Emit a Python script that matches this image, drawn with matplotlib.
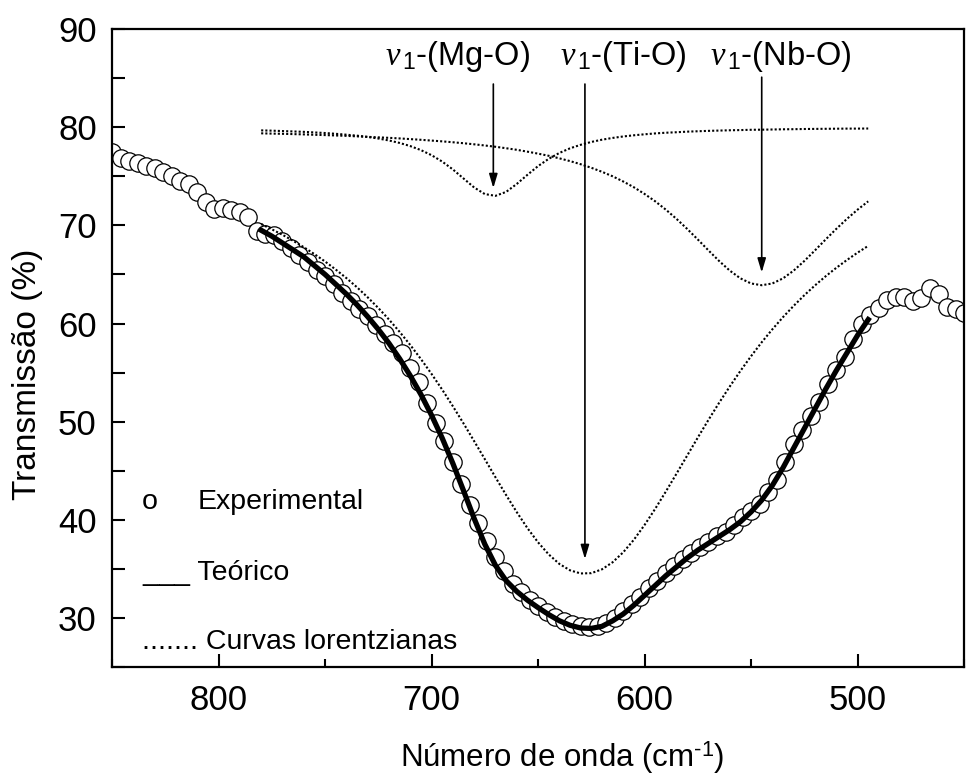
import matplotlib.pyplot as plt
from matplotlib.ticker import MultipleLocator

# experimental spectrum, one point every 4 cm-1 from 850 down to 450
wn_exp = list(range(850, 449, -4))
t_exp = [
    77.5, 76.9, 76.6, 76.4, 76.1, 75.8, 75.4, 75.0, 74.5, 74.2,   # 850-814
    73.4, 72.4, 71.7, 71.8, 71.6, 71.4, 70.9, 69.4, 69.1, 69.0,   # 810-774
    68.4, 67.7, 67.0, 66.3, 65.5, 64.8, 64.0, 63.1, 62.3, 61.5,   # 770-734
    60.8, 59.8, 58.9, 58.0, 57.0, 55.5, 54.0, 51.9, 49.9, 48.0,   # 730-694
    45.9, 43.6, 41.5, 39.7, 37.8, 36.2, 34.8, 33.5, 32.6, 31.8,   # 690-654
    31.2, 30.6, 30.1, 29.7, 29.4, 29.2, 29.1, 29.2, 29.5, 30.0,   # 650-614
    30.7, 31.4, 32.1, 33.0, 33.8, 34.6, 35.3, 36.0, 36.6, 37.2,   # 610-574
    37.7, 38.3, 38.8, 39.5, 40.3, 40.9, 41.6, 42.8, 44.1, 45.9,   # 570-534
    47.7, 49.1, 50.6, 52.0, 53.8, 55.3, 56.6, 58.4, 59.9, 60.9,   # 530-494
    61.6, 62.4, 62.7, 62.7, 62.3, 62.6, 63.6, 63.0, 61.7, 61.5,   # 490-454
    61.1,                                                         # 450
]

# fitted curves, every 5 cm-1 from 780 down to 495
wn_fit = list(range(780, 494, -5))
t_teorico = [
    69.50, 68.90, 68.20, 67.50, 66.80, 65.90, 65.00, 64.00, 63.00, 61.90,
    60.70, 59.40, 57.98, 56.41, 54.68, 52.77, 50.65, 48.32, 45.74, 42.97,
    40.13, 37.51, 35.35, 33.79, 32.70, 31.81, 31.05, 30.34, 29.71, 29.25,
    28.97, 28.93, 29.14, 29.70, 30.40, 31.30, 32.30, 33.30, 34.30, 35.20,
    36.10, 36.90, 37.60, 38.30, 39.00, 39.80, 40.80, 42.00, 43.50, 45.30,
    47.30, 49.30, 51.30, 53.30, 55.20, 57.00, 58.80, 60.40,
]
t_mg = [
    79.68, 79.65, 79.61, 79.57, 79.53, 79.47, 79.41, 79.33, 79.24, 79.14,
    79.01, 78.85, 78.65, 78.40, 78.08, 77.67, 77.15, 76.50, 75.70, 74.78,
    73.86, 73.19, 73.01, 73.41, 74.22, 75.15, 76.04, 76.78, 77.38, 77.85,
    78.21, 78.50, 78.73, 78.91, 79.06, 79.18, 79.28, 79.37, 79.44, 79.49,
    79.55, 79.59, 79.63, 79.66, 79.69, 79.71, 79.74, 79.75, 79.77, 79.79,
    79.80, 79.82, 79.83, 79.84, 79.85, 79.86, 79.86, 79.87,
]
t_ti = [
    70.13, 69.60, 69.04, 68.43, 67.78, 67.07, 66.32, 65.50, 64.63, 63.69,
    62.67, 61.58, 60.41, 59.15, 57.81, 56.38, 54.86, 53.26, 51.57, 49.82,
    48.01, 46.18, 44.33, 42.52, 40.78, 39.15, 37.70, 36.47, 35.50, 34.85,
    34.53, 34.56, 34.95, 35.67, 36.69, 37.97, 39.47, 41.12, 42.88, 44.70,
    46.54, 48.38, 50.18, 51.92, 53.58, 55.17, 56.67, 58.09, 59.41, 60.65,
    61.80, 62.88, 63.88, 64.81, 65.67, 66.47, 67.22, 67.91,
]
t_nb = [
    79.38, 79.35, 79.33, 79.30, 79.27, 79.23, 79.20, 79.16, 79.12, 79.07,
    79.02, 78.97, 78.92, 78.86, 78.79, 78.72, 78.64, 78.56, 78.47, 78.37,
    78.26, 78.14, 78.01, 77.86, 77.70, 77.51, 77.31, 77.09, 76.83, 76.55,
    76.23, 75.87, 75.46, 75.00, 74.47, 73.88, 73.20, 72.45, 71.60, 70.66,
    69.64, 68.56, 67.45, 66.37, 65.39, 64.60, 64.08, 63.90, 64.08, 64.60,
    65.39, 66.37, 67.45, 68.56, 69.64, 70.66, 71.60, 72.45,
]

# band labels: name, band position (cm-1), transmission at arrow tip
bands = ['Mg-O', 'Ti-O', 'Nb-O']
band_wn = [671, 628, 545]
band_tip = [73.8, 36.0, 65.2]

plt.rcParams['font.family'] = ['Liberation Sans', 'DejaVu Sans']
plt.rcParams['mathtext.fontset'] = 'custom'
plt.rcParams['mathtext.rm'] = 'Liberation Sans'
plt.rcParams['mathtext.it'] = 'Liberation Serif:italic'
plt.rcParams['mathtext.bf'] = 'Liberation Sans:bold'

fig = plt.figure(figsize=(9.66, 7.76), dpi=100)
ax = fig.add_axes([0.116, 0.1405, 0.882, 0.822])

ax.plot(wn_exp, t_exp, 'o', ms=12.5, mfc='white', mec='black', mew=0.9, zorder=2)
ax.plot(wn_fit, t_teorico, '-', color='black', lw=3.8, zorder=3)
for curve in (t_mg, t_ti, t_nb):
    ax.plot(wn_fit, curve, color='black', lw=1.5, ls=(0, (1, 1)), zorder=4)

text_x = [721.8, 639.7, 569.2]
arrow_top = [84.4, 84.4, 85.1]
for name, wn, tip, tx, top in zip(bands, band_wn, band_tip, text_x, arrow_top):
    ax.text(tx, 86.3, r'$\nu_{\,1}$-(' + name + ')', fontsize=23.5,
            ha='left', va='baseline')
    ax.annotate('', xy=(wn, tip), xytext=(wn, top),
                arrowprops=dict(arrowstyle='-|>,head_length=0.6,head_width=0.18',
                                color='black', lw=1.2, mutation_scale=14,
                                shrinkA=0, shrinkB=0))

# hand-made legend
ax.text(835.9, 41.1, 'o', fontsize=20.5, va='baseline')
ax.text(809.6, 41.1, 'Experimental', fontsize=20.5, va='baseline')
ax.text(835.9, 33.87, '___ Teórico', fontsize=20.5, va='baseline')
ax.text(835.9, 26.8, '....... Curvas lorentzianas', fontsize=20.5, va='baseline')

ax.set_xlim(850, 450)
ax.set_ylim(25, 90)
ax.xaxis.set_major_locator(MultipleLocator(100))
ax.xaxis.set_minor_locator(MultipleLocator(50))
ax.yaxis.set_major_locator(MultipleLocator(10))
ax.yaxis.set_minor_locator(MultipleLocator(5))
ax.tick_params(which='both', direction='in', width=1.5, labelsize=25)
ax.tick_params(axis='x', which='major', length=9.5, pad=12)
ax.tick_params(axis='x', which='minor', length=6)
ax.tick_params(axis='y', which='both', length=9.5, pad=11)
for sp in ax.spines.values():
    sp.set_linewidth(1.6)

fig.text(562 / 966, 1 - 767 / 776, r'Número de onda (cm$^{\text{-1}}$)', fontsize=22.5,
         ha='center', va='baseline')
fig.text(0.0285, 0.517, 'Transmissão (%)', fontsize=24, rotation=90,
         ha='center', va='center')

fig.savefig('out.png', dpi=100)
